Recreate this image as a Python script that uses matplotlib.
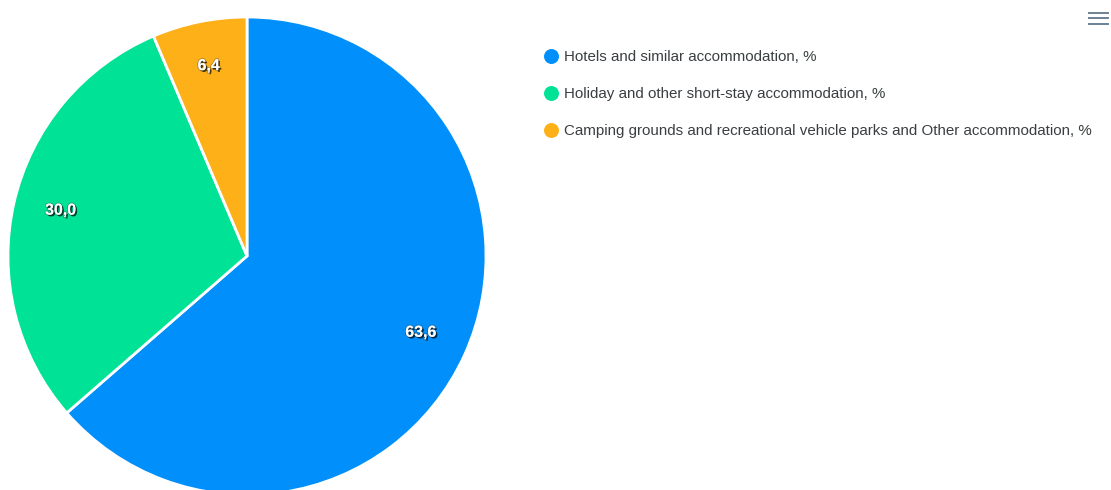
import matplotlib
matplotlib.use("Agg")
import matplotlib.pyplot as plt
import matplotlib.patheffects as pe
from matplotlib.lines import Line2D

plt.rcParams["font.family"] = ["Liberation Sans", "DejaVu Sans"]

# data
categories = [
    "Hotels and similar accommodation, %",
    "Holiday and other short-stay accommodation, %",
    "Camping grounds and recreational vehicle parks and Other accommodation, %",
]
values = [63.6, 30.0, 6.4]
colors = ["#008FFB", "#00E396", "#FEB019"]

W, H = 1111, 490
fig = plt.figure(figsize=(W / 100, H / 100), dpi=100)
ax = fig.add_axes([0, 0, 1, 1])
ax.set_xlim(0, W)
ax.set_ylim(0, H)
ax.set_aspect("equal")
ax.axis("off")

wedges, texts, autotexts = ax.pie(
    values, colors=colors, startangle=90, counterclock=False,
    center=(247, H - 256), radius=239,
    autopct=lambda p: f"{p:.1f}".replace(".", ","), pctdistance=0.8,
    wedgeprops=dict(edgecolor="white", linewidth=2),
    textprops=dict(color="white", fontsize=11.5, fontweight="bold"),
)
ax.set_xlim(0, W)
ax.set_ylim(0, H)
for t in autotexts:
    x, y = t.get_position()
    t.set_position((x, y + 3))
    t.set_path_effects([pe.withSimplePatchShadow(offset=(1.2, -1.2), shadow_rgbFace="#000000", alpha=0.7),
                        pe.Stroke(linewidth=1.2, foreground="#222222", alpha=0.35), pe.Normal()])

# legend, drawn by hand
for i, (lab, c) in enumerate(zip(categories, colors)):
    y = 57.5 + i * 37
    ax.scatter([551], [H - y + 1], s=95, color=c, zorder=3, clip_on=False)
    ax.text(564, H - y, lab, fontsize=10.9, color="#3a3f41", va="center", ha="left")

# toolbar menu icon
for y in (13, 18.5, 24):
    fig.add_artist(Line2D([1089 / W, 1108 / W], [1 - y / H, 1 - y / H],
                          color="#6E8192", lw=1.4, transform=fig.transFigure))

fig.savefig("out.png", dpi=100)
